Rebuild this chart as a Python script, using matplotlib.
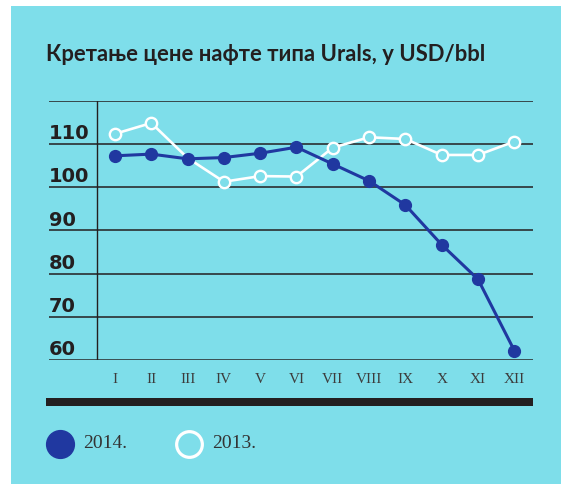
import matplotlib
matplotlib.use("Agg")
import matplotlib.pyplot as plt
from matplotlib.patches import Rectangle
from matplotlib.lines import Line2D

PANEL = "#7EDEEA"
BLUE = "#2038A0"
DARK = "#231F20"

months = ["I", "II", "III", "IV", "V", "VI", "VII", "VIII", "IX", "X", "XI", "XII"]
urals_2014 = [107.3, 107.7, 106.6, 106.9, 107.9, 109.3, 105.4, 101.5, 95.9, 86.7, 78.7, 62.2]
urals_2013 = [112.4, 114.9, 106.8, 101.3, 102.6, 102.5, 109.2, 111.6, 111.2, 107.5, 107.5, 110.6]
y_ticks = [60, 70, 80, 90, 100, 110, 120]
title = "Кретање цене нафте типа Urals, у USD/bbl"

W, H = 561, 484


def fx(px):
    return px / W


def fy(py):
    return (H - py) / H


fig = plt.figure(figsize=(W / 100, H / 100), dpi=100)
fig.patch.set_facecolor("white")
fig.patches.append(Rectangle((fx(11), 0), 1 - fx(11), fy(6), transform=fig.transFigure,
                             facecolor=PANEL, edgecolor="none", zorder=-5))

ax = fig.add_axes([fx(49), fy(360), (533 - 49) / W, (360 - 101) / H])
ax.set_zorder(1)
ax.set_facecolor("none")
for s in ax.spines.values():
    s.set_visible(False)
ax.set_xticks([])
ax.set_yticks([])

x = list(range(1, len(months) + 1))
ax.set_xlim(-0.818, 12.515)
ax.set_ylim(60, 120)

for v in y_ticks:
    if v == 60:
        ax.axhline(v, color="#3a4f52", lw=1.4, zorder=1)
    else:
        ax.axhline(v, color=DARK, lw=1.1, zorder=1)
    if v < 120:
        ax.text(0.0, v + 1.15, str(v), transform=ax.get_yaxis_transform(),
                ha="left", va="baseline", fontsize=14, fontweight="bold",
                family="DejaVu Sans", color=DARK)
ax.plot([0.5, 0.5], [60, 120], color=DARK, lw=1.0, zorder=1)

for xi, m in zip(x, months):
    ax.text(xi, 55.4, m, ha="center", va="center", fontsize=11,
            family="Liberation Serif", color="#3c3c3c", clip_on=False)

# 2013 marker at III sits under the 2014 dot
marks_2013 = [i for i in range(len(months)) if i != 2]
ax.plot(x, urals_2013, color="white", lw=1.9, marker="o", markersize=8.2,
        markerfacecolor=PANEL, markeredgecolor="white", markeredgewidth=1.7,
        markevery=marks_2013, zorder=3, clip_on=False)
ax.plot(x, urals_2014, color=BLUE, lw=2.2, marker="o", markersize=8.5,
        markerfacecolor=BLUE, markeredgecolor=BLUE, zorder=4, clip_on=False)

fig.text(fx(46.5), fy(61), title, ha="left", va="baseline", fontsize=15.8,
         fontweight="bold", family="Lato", color=DARK)

fig.patches.append(Rectangle((fx(46), fy(405.7)), (533 - 46) / W, 8 / H,
                             transform=fig.transFigure, facecolor=DARK,
                             edgecolor="none", zorder=2))

fig.add_artist(Line2D([fx(60)], [fy(444)], marker="o", markersize=20,
                      markerfacecolor=BLUE, markeredgecolor=BLUE,
                      transform=fig.transFigure))
fig.add_artist(Line2D([fx(189)], [fy(444)], marker="o", markersize=18.5,
                      markerfacecolor=PANEL, markeredgecolor="white",
                      markeredgewidth=2.3, transform=fig.transFigure))
fig.text(fx(83), fy(444), "2014.", ha="left", va="center", fontsize=14,
         family="Liberation Serif", color="#333333")
fig.text(fx(212), fy(444), "2013.", ha="left", va="center", fontsize=14,
         family="Liberation Serif", color="#333333")

fig.savefig("out.png", dpi=100, facecolor=fig.get_facecolor())
